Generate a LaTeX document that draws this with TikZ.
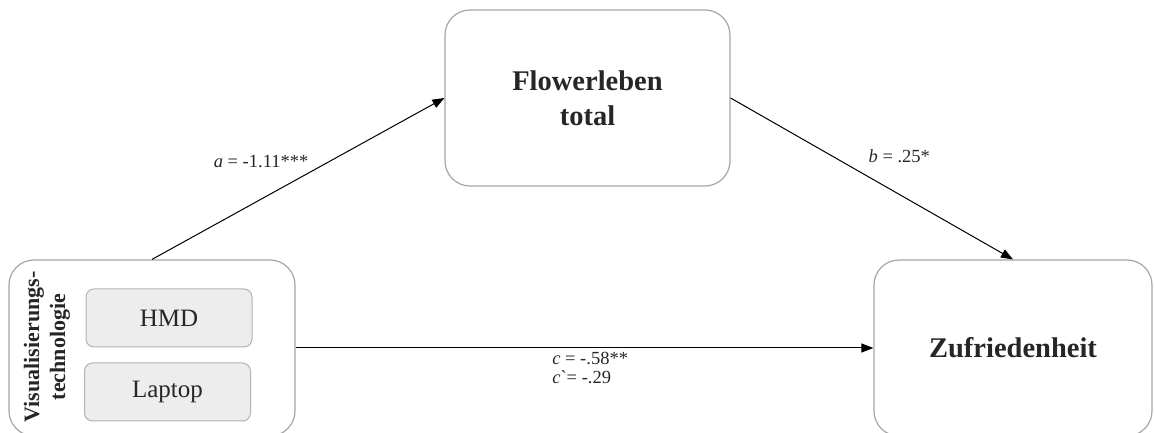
\documentclass[tikz,border=0pt]{standalone}
\usepackage{fontspec}
\setmainfont{Liberation Serif}
\usepackage{tikz}
\usetikzlibrary{arrows.meta,positioning}

\begin{document}
\begin{tikzpicture}[
    x=1pt,y=1pt,
    >={Triangle[length=12pt,width=9pt]},
    var/.style={draw=black!35,rounded corners=25pt,line width=1.2pt,
                minimum width=285pt,minimum height=176pt,align=center,
                font=\fontsize{28.5}{35}\selectfont\bfseries,text=black!85},
    level/.style={draw=black!30,rounded corners=8pt,fill=black!7,line width=1pt,
                  minimum width=166pt,minimum height=58pt,
                  font=\fontsize{25}{30}\selectfont,text=black!85},
    path/.style={->,line width=1pt},
    lbl/.style={font=\fontsize{18.5}{19}\selectfont,inner sep=2pt,align=left,text=black!85},
]

\useasboundingbox (0,0) rectangle (1154,433);
\clip (0,0) rectangle (1154,433);

% ---- the three variables ----
\node[var]                      (flow) at (587.5,335) {Flowerleben\\total};
\node[var,minimum width=278pt]  (zuf)  at (1013,85)   {Zufriedenheit};
\node[var,minimum width=286pt]  (vis)  at (152,85)    {};

% ---- predictor levels ----
\node[level]                 (hmd)    at (169,115) {HMD};
\node[level,below=15pt of hmd,xshift=-1.5pt] (laptop) {Laptop};
\node[rotate=90,align=center,inner sep=0pt,text=black!85,
      font=\fontsize{22}{26}\selectfont\bfseries] (vislbl) at (47,86)
     {Visualisierungs-\\technologie};

% ---- paths a, b, c ----
\draw[path] (vis.north) -- node[lbl,above left,pos=0.55,xshift=-2pt]{\textit{a} = -1.11***} (flow.west);
\draw[path] (flow.east) -- node[lbl,above right,pos=0.48,yshift=10pt]{\textit{b} = .25*} (zuf.north);
\draw[path] (vis.east)  -- node[lbl,anchor=north west,pos=0.44,yshift=-2pt]
     {\textit{c} = -.58**\\\textit{c}\textasciigrave{}= -.29} (zuf.west);

\end{tikzpicture}
\end{document}
